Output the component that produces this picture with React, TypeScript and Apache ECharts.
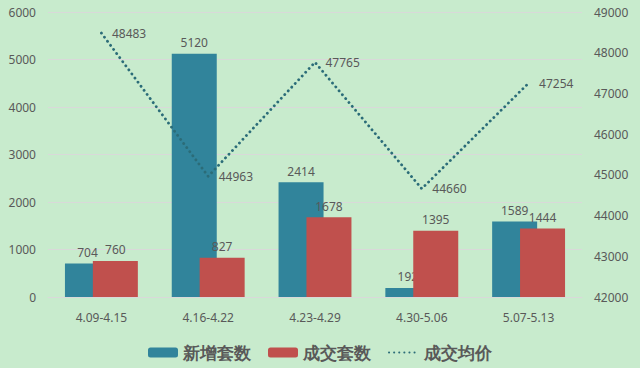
import React, { useEffect, useRef } from "react";
import * as echarts from "echarts";

const categories = ["4.09-4.15", "4.16-4.22", "4.23-4.29", "4.30-5.06", "5.07-5.13"];
const newListings = [704, 5120, 2414, 192, 1589];
const deals = [760, 827, 1678, 1395, 1444];
const avgPrice = [48483, 44963, 47765, 44660, 47254];

const seriesNames = ["新增套数", "成交套数", "成交均价"];

export default function App() {
  const ref = useRef<HTMLDivElement>(null);
  useEffect(() => {
    if (!ref.current) return;
    const chart = echarts.init(ref.current, null, { renderer: "svg" });
    const textColor = "#595959";
    const lineColor = "#2b6c78";
    const font = "'Noto Sans', sans-serif";
    chart.setOption({
      animation: false,
      backgroundColor: "#c8ebcd",
      textStyle: { fontFamily: font },
      grid: { left: 48, right: 58, top: 12, bottom: 71, containLabel: false },
      legend: {
        bottom: 2,
        left: "center",
        itemWidth: 30,
        itemHeight: 10,
        itemGap: 17,
        textStyle: { fontSize: 17, fontWeight: "bold", color: textColor, fontFamily: font },
        data: [
          { name: seriesNames[0] },
          { name: seriesNames[1] },
          { name: seriesNames[2], itemStyle: { opacity: 0 } },
        ],
      },
      xAxis: {
        type: "category",
        data: categories,
        axisLine: { lineStyle: { color: "#d9d9d9" } },
        axisTick: { show: false },
        axisLabel: { color: textColor, fontSize: 12, margin: 14 },
      },
      yAxis: [
        {
          type: "value",
          min: 0,
          max: 6000,
          interval: 1000,
          axisLine: { show: false },
          axisTick: { show: false },
          axisLabel: { color: textColor, fontSize: 12, margin: 12, formatter: (v: number) => String(v) },
          splitLine: { lineStyle: { color: "#d9d9d9" } },
        },
        {
          type: "value",
          min: 42000,
          max: 49000,
          interval: 1000,
          axisLine: { show: false },
          axisTick: { show: false },
          axisLabel: { color: textColor, fontSize: 12, margin: 12, formatter: (v: number) => String(v) },
          splitLine: { show: false },
        },
      ],
      series: [
        {
          name: seriesNames[0],
          type: "bar",
          data: newListings,
          barWidth: 45,
          barGap: "-38%",
          itemStyle: { color: "#31849b" },
          label: { show: true, position: "top", color: textColor, fontSize: 12 },
          z: 2,
        },
        {
          name: seriesNames[1],
          type: "bar",
          data: deals,
          barWidth: 45,
          itemStyle: { color: "#c0504d" },
          label: { show: true, position: "top", color: textColor, fontSize: 12 },
          z: 3,
        },
        {
          name: seriesNames[2],
          type: "line",
          yAxisIndex: 1,
          data: avgPrice,
          symbol: "circle",
          symbolSize: 1,
          showSymbol: true,
          lineStyle: { type: [0.1, 5], cap: "round", width: 2.8, color: lineColor },
          itemStyle: { color: "rgba(0,0,0,0)" },
          label: { show: true, position: "right", distance: 10, color: textColor, fontSize: 12 },
          z: 4,
        },
      ],
    });
    return () => chart.dispose();
  }, []);
  return <div ref={ref} style={{ width: 640, height: 368, position: "absolute", left: 0, top: 0 }} />;
}
